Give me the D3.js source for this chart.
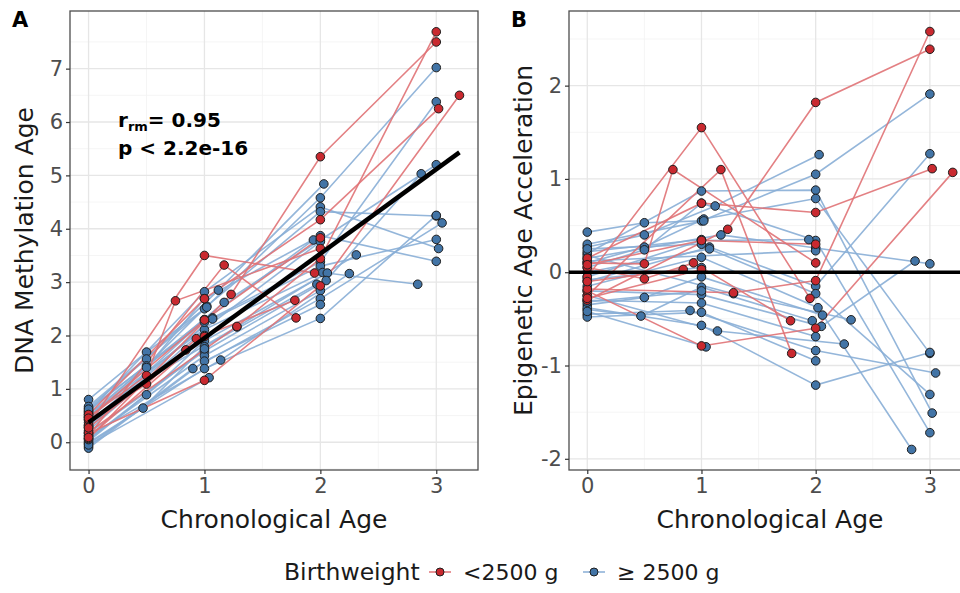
<!DOCTYPE html>
<html>
<head>
<meta charset="utf-8">
<script src="https://cdn.jsdelivr.net/npm/d3@7"></script>
<style>
  body { margin: 0; background: #fff; }
  text { font-family: "DejaVu Sans", sans-serif; }
</style>
</head>
<body>
<svg id="chart" width="960" height="593"></svg>
<script>
// one entry per child, same index in every array
const subjectGroup = [
    "<2500 g", "<2500 g", "<2500 g", "<2500 g", "<2500 g", "<2500 g",
    "<2500 g", "<2500 g", "<2500 g", "<2500 g", "<2500 g",
    "≥ 2500 g", "≥ 2500 g", "≥ 2500 g", "≥ 2500 g", "≥ 2500 g", "≥ 2500 g",
    "≥ 2500 g", "≥ 2500 g", "≥ 2500 g", "≥ 2500 g", "≥ 2500 g", "≥ 2500 g",
    "≥ 2500 g", "≥ 2500 g", "≥ 2500 g", "≥ 2500 g", "≥ 2500 g", "≥ 2500 g",
    "≥ 2500 g", "≥ 2500 g", "≥ 2500 g", "≥ 2500 g", "≥ 2500 g", "≥ 2500 g",
    "≥ 2500 g", "≥ 2500 g"
];

const visitAge = [
    [0, 1.0, 1.95],
    [0, 0.5, 0.75, 2.0],
    [0, 1.17, 1.79],
    [0, 1.0, 2.0, 3.02],
    [0, 1.23, 2.0, 3.0],
    [0, 1.0, 2.0, 3.2],
    [0, 1.28, 2.0, 3.0],
    [0, 0.5, 0.93, 1.78],
    [0, 1.0],
    [0, 1.0, 2.0],
    [0, 0.84],
    [0, 1.0, 2.0, 3.02],
    [0, 0.5, 1.0, 2.0, 3.0],
    [0, 0.5, 1.12, 2.03],
    [0, 0.5, 1.02, 2.0, 3.0],
    [0, 0.5, 1.0, 2.0, 3.0],
    [0, 1.0, 1.94],
    [0, 1.17, 2.0, 3.0],
    [0, 1.07, 2.0, 3.0],
    [0, 1.07, 2.0, 3.0],
    [0, 1.0, 2.02, 2.84],
    [0, 0.5, 1.0, 2.06],
    [0, 0.47, 1.0, 1.97],
    [0, 1.0, 2.05, 2.87],
    [0, 1.0, 2.0],
    [0, 0.9, 2.0, 3.05],
    [0, 1.0, 2.0],
    [0, 1.0, 2.0, 3.0],
    [0, 1.14, 2.25],
    [0, 1.04],
    [0, 1.28, 2.31],
    [0, 1.0],
    [0, 1.02],
    [0, 2.0],
    [0, 1.0],
    [0, 1.0],
    [0, 1.0]
];

const dnamAge = [
    [0.32, 3.50, 3.17],
    [0.47, 1.25, 2.65, 3.63],
    [0.12, 3.32, 2.33],
    [0.52, 2.69, 4.17, 6.25],
    [0.07, 2.77, 5.35, 7.50],
    [0.17, 1.16, 2.93, 6.50],
    [0.19, 2.17, 3.44, 7.69],
    [0.42, 1.09, 1.94, 2.66],
    [0.09, 1.98],
    [0.45, 2.29, 3.83],
    [0.27, 1.73],
    [0.57, 2.82, 4.41, 3.63],
    [0.80, 1.69, 2.50, 4.58, 7.02],
    [0.64, 1.56, 2.85, 4.84],
    [0.47, 1.43, 2.55, 4.32, 4.24],
    [0.42, 1.40, 2.69, 3.87, 3.39],
    [0.32, 2.29, 3.79],
    [0.52, 2.62, 3.79, 5.20],
    [0.27, 2.33, 3.38, 6.38],
    [0.37, 2.31, 3.30, 3.80],
    [0.22, 2.11, 3.18, 2.96],
    [0.02, 0.89, 1.90, 3.17],
    [-0.03, 0.64, 1.79, 2.96],
    [0.17, 1.71, 3.03, 5.03],
    [0.07, 1.62, 2.84],
    [-0.08, 1.38, 2.69, 4.11],
    [-0.11, 1.52, 2.58],
    [-0.01, 1.38, 2.32, 4.25],
    [0.12, 1.54, 3.16],
    [-0.05, 1.21],
    [0.55, 2.16, 3.51],
    [0.59, 2.30],
    [0.67, 2.53],
    [0.49, 3.76],
    [0.29, 2.00],
    [0.05, 1.75],
    [0.62, 2.25]
];

const ageAccel = [
    [-0.05, 1.55, -0.28],
    [0.10, 0.09, 1.10, 0.10],
    [-0.25, 1.10, -0.87],
    [0.15, 0.74, 0.64, 1.11],
    [-0.30, 0.46, 1.82, 2.39],
    [-0.20, -0.79, -0.60, 1.07],
    [-0.18, -0.22, -0.09, 2.58],
    [0.05, -0.07, 0.10, -0.52],
    [-0.28, 0.03],
    [0.08, 0.34, 0.30],
    [-0.10, 0.03],
    [0.20, 0.87, 0.88, -1.51],
    [0.43, 0.53, 0.55, 1.05, 1.91],
    [0.27, 0.40, 0.71, 1.26],
    [0.10, 0.27, 0.57, 0.79, -0.87],
    [0.05, 0.24, 0.74, 0.34, -1.72],
    [-0.05, 0.34, 0.35],
    [0.15, 0.40, 0.26, 0.09],
    [-0.10, 0.27, -0.15, 1.27],
    [0.00, 0.25, -0.23, -1.31],
    [-0.15, 0.16, -0.38, -1.90],
    [-0.35, -0.27, -0.05, -0.46],
    [-0.40, -0.47, -0.16, -0.52],
    [-0.20, -0.24, -0.58, 0.12],
    [-0.30, -0.33, -0.69],
    [-0.45, -0.41, -0.84, -1.08],
    [-0.48, -0.43, -0.95],
    [-0.38, -0.57, -1.21, -0.86],
    [-0.25, -0.63, -0.77],
    [-0.42, -0.80],
    [0.18, -0.23, -0.51],
    [0.22, 0.35],
    [0.30, 0.55],
    [0.12, 0.23],
    [-0.08, 0.05],
    [-0.32, -0.20],
    [0.25, 0.30]
];

// repeated-measures fit shown in panel A
const fitAge = [0, 3.2];
const fitDnam = [0.37, 5.43];

const groups = ["<2500 g", "≥ 2500 g"];
const xTicks = [0, 1, 2, 3];
const yTicksA = [0, 1, 2, 3, 4, 5, 6, 7];
const yTicksB = [-2, -1, 0, 1, 2];

const pointFill = { "<2500 g": "#c9292f", "≥ 2500 g": "#4274a6" };
const lineColour = { "<2500 g": "#e07276", "≥ 2500 g": "#88aed6" };

const svg = d3.select('#chart');

const xA = d3.scaleLinear().domain([-0.16, 3.36]).range([70, 478]);
const yA = d3.scaleLinear().domain([-0.52, 8.08]).range([470, 11]);
const xB = d3.scaleLinear().domain([-0.16, 3.36]).range([569, 971]);
const yB = d3.scaleLinear().domain([-2.12, 2.80]).range([470, 11]);

// build one series per child for each panel
const seriesA = subjectGroup.map((g, i) => ({
    group: g,
    pts: visitAge[i].map((a, j) => [a, dnamAge[i][j]])
}));
const seriesB = subjectGroup.map((g, i) => ({
    group: g,
    pts: visitAge[i].map((a, j) => [a, ageAccel[i][j]])
}));

function drawPanel(x, y, yTicks, series, yTitle, letter) {
    const [left, right] = x.range();
    const [bottom, top] = y.range();
    const panel = svg.append('g');

    // minor grid
    const xMinor = d3.range(-0.5, 4, 1).filter(v => v > x.domain()[0] && v < x.domain()[1]);
    const yMinor = d3.range(Math.floor(y.domain()[0]) + 0.5, y.domain()[1], 1)
        .filter(v => v > y.domain()[0]);
    panel.selectAll('line.minor-x')
        .data(xMinor)
        .join('line')
            .attr('x1', d => x(d)).attr('x2', d => x(d))
            .attr('y1', top).attr('y2', bottom)
            .attr('stroke', '#f2f2f2').attr('stroke-width', 0.8);
    panel.selectAll('line.minor-y')
        .data(yMinor)
        .join('line')
            .attr('x1', left).attr('x2', right)
            .attr('y1', d => y(d)).attr('y2', d => y(d))
            .attr('stroke', '#f2f2f2').attr('stroke-width', 0.8);

    // major grid
    panel.selectAll('line.major-x')
        .data(xTicks)
        .join('line')
            .attr('x1', d => x(d)).attr('x2', d => x(d))
            .attr('y1', top).attr('y2', bottom)
            .attr('stroke', '#e6e6e6').attr('stroke-width', 1.3);
    panel.selectAll('line.major-y')
        .data(yTicks)
        .join('line')
            .attr('x1', left).attr('x2', right)
            .attr('y1', d => y(d)).attr('y2', d => y(d))
            .attr('stroke', '#e6e6e6').attr('stroke-width', 1.3);

    const line = d3.line().x(d => x(d[0])).y(d => y(d[1]));

    // blue first, red on top
    const ordered = series.slice().sort((a, b) => (a.group === groups[0]) - (b.group === groups[0]));
    panel.selectAll('path.traj')
        .data(ordered)
        .join('path')
            .attr('d', d => line(d.pts))
            .attr('fill', 'none')
            .attr('stroke', d => lineColour[d.group])
            .attr('stroke-opacity', 0.9)
            .attr('stroke-width', 1.6);

    const pts = ordered.flatMap(s => s.pts.map(p => ({ group: s.group, x: p[0], y: p[1] })));
    panel.selectAll('circle')
        .data(pts)
        .join('circle')
            .attr('cx', d => x(d.x))
            .attr('cy', d => y(d.y))
            .attr('r', 4.3)
            .attr('fill', d => pointFill[d.group])
            .attr('stroke', '#1e1e1e')
            .attr('stroke-width', 1);

    // border
    panel.append('rect')
        .attr('x', left).attr('y', top)
        .attr('width', right - left).attr('height', bottom - top)
        .attr('fill', 'none')
        .attr('stroke', '#4d4d4d')
        .attr('stroke-width', 1.3);

    // axes
    const yAxis = svg.append('g')
        .attr('transform', `translate(${left},0)`)
        .call(d3.axisLeft(y).tickValues(yTicks).tickSize(4).tickPadding(3).tickFormat(d3.format('d')));
    const xAxis = svg.append('g')
        .attr('transform', `translate(0,${bottom})`)
        .call(d3.axisBottom(x).tickValues(xTicks).tickSize(4).tickPadding(4).tickFormat(d3.format('d')));
    [xAxis, yAxis].forEach(ax => {
        ax.select('.domain').remove();
        ax.selectAll('.tick line').attr('stroke', '#333').attr('stroke-width', 1.2);
        ax.selectAll('.tick text')
            .attr('fill', '#4d4d4d')
            .style('font-size', '21px')
            .style('font-family', '"DejaVu Sans", sans-serif');
    });
    yAxis.selectAll('.tick text').text(d => d < 0 ? '-' + Math.abs(d) : d);

    svg.append('text')
        .attr('x', (left + right) / 2)
        .attr('y', 528)
        .attr('text-anchor', 'middle')
        .style('font-size', '25px')
        .attr('fill', '#1a1a1a')
        .text('Chronological Age');

    svg.append('text')
        .attr('transform', `translate(${left - 37},${(top + bottom) / 2}) rotate(-90)`)
        .attr('text-anchor', 'middle')
        .style('font-size', '25px')
        .attr('fill', '#1a1a1a')
        .text(yTitle);

    svg.append('text')
        .attr('x', left - 58)
        .attr('y', 27)
        .style('font-size', '21px')
        .style('font-weight', 'bold')
        .text(letter);

    return panel;
}

const panelA = drawPanel(xA, yA, yTicksA, seriesA, 'DNA Methylation Age', 'A');
panelA.append('line')
    .attr('x1', xA(fitAge[0])).attr('y1', yA(fitDnam[0]))
    .attr('x2', xA(fitAge[1])).attr('y2', yA(fitDnam[1]))
    .attr('stroke', '#000')
    .attr('stroke-width', 4.5)
    .attr('stroke-linecap', 'butt');

const stats = panelA.append('g').style('font-weight', 'bold').attr('fill', '#000');
const r = stats.append('text').attr('x', 118).attr('y', 127).style('font-size', '20px');
r.append('tspan').text('r');
r.append('tspan').attr('dy', 4).style('font-size', '13px').text('rm');
r.append('tspan').attr('dy', -4).text('= 0.95');
stats.append('text').attr('x', 118).attr('y', 155).style('font-size', '20px').text('p < 2.2e-16');

const panelB = drawPanel(xB, yB, yTicksB, seriesB, 'Epigenetic Age Acceleration', 'B');
panelB.append('line')
    .attr('x1', xB.range()[0]).attr('x2', xB.range()[1])
    .attr('y1', yB(0)).attr('y2', yB(0))
    .attr('stroke', '#000')
    .attr('stroke-width', 3.5);

// legend
const legend = svg.append('g');
legend.append('text')
    .attr('x', 284).attr('y', 580)
    .style('font-size', '23.5px')
    .attr('fill', '#1a1a1a')
    .text('Birthweight');

const keyX = [440, 594];
const labelX = [463, 617];
groups.forEach((g, i) => {
    legend.append('line')
        .attr('x1', keyX[i] - 11).attr('x2', keyX[i] + 11)
        .attr('y1', 572).attr('y2', 572)
        .attr('stroke', lineColour[g])
        .attr('stroke-width', 1.5);
    legend.append('circle')
        .attr('cx', keyX[i]).attr('cy', 572).attr('r', 4)
        .attr('fill', pointFill[g])
        .attr('stroke', '#1e1e1e');
    legend.append('text')
        .attr('x', labelX[i]).attr('y', 580)
        .style('font-size', '22px')
        .attr('fill', '#1a1a1a')
        .text(g);
});
</script>
</body>
</html>
